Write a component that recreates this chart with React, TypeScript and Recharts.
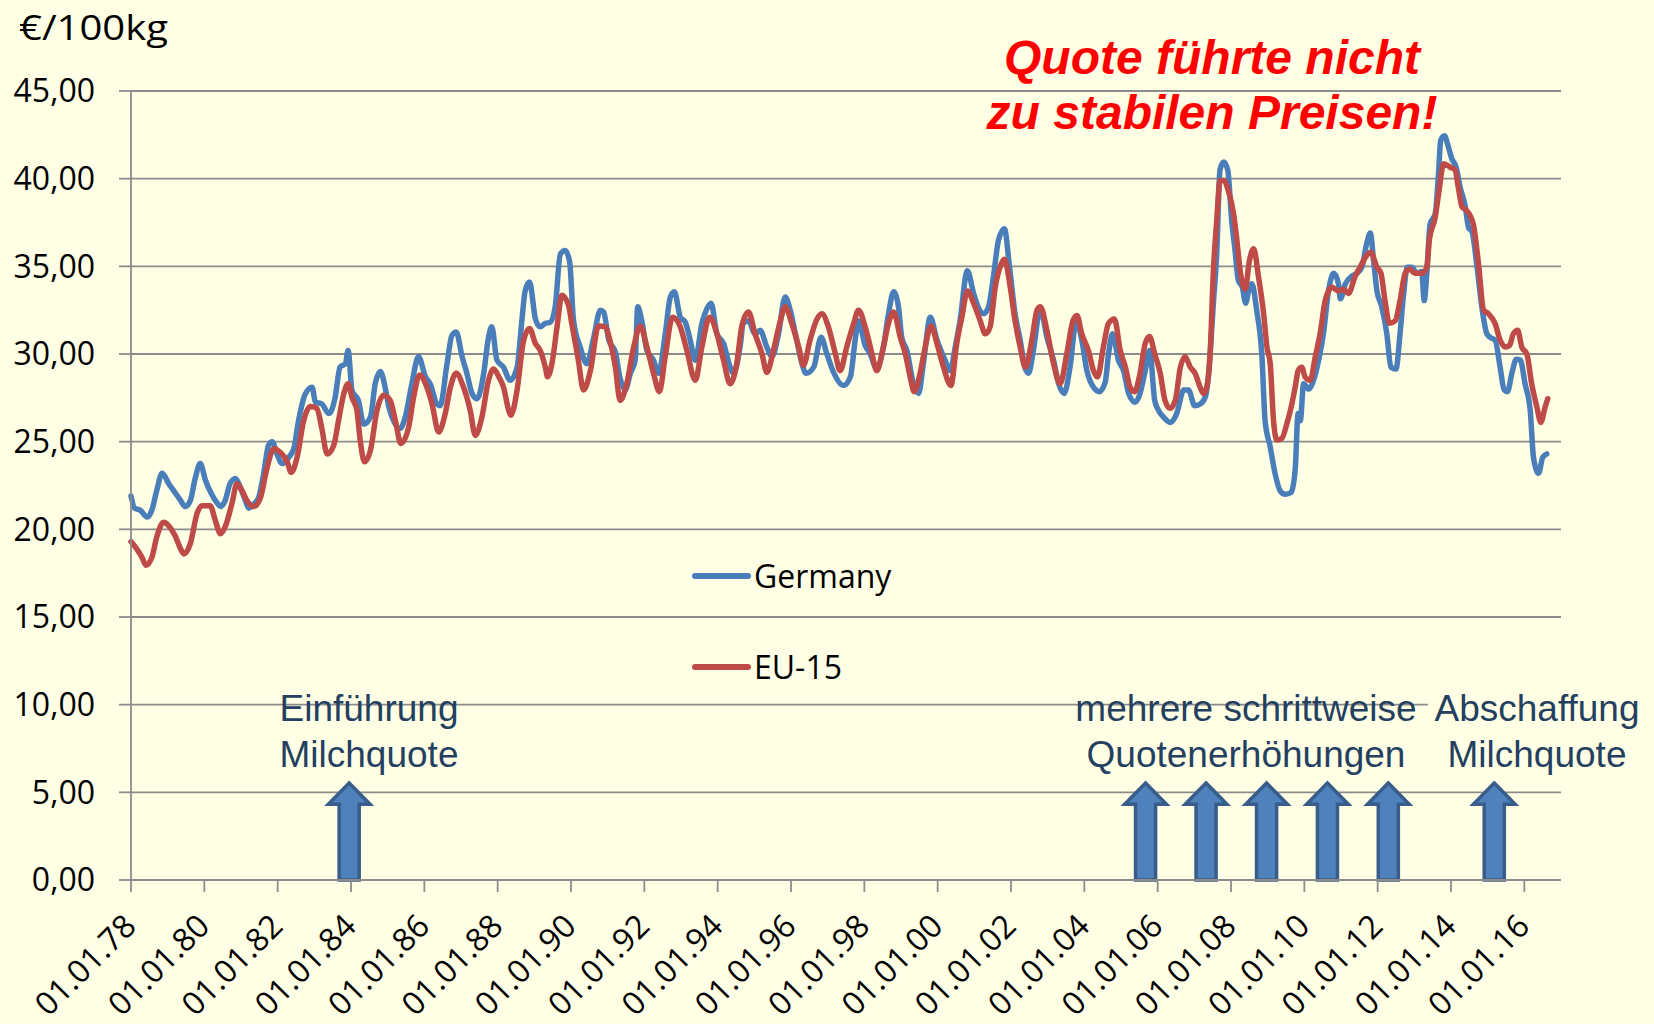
import React from "react"
import { LineChart, Line, XAxis, YAxis, CartesianGrid, Legend, ReferenceArea } from "recharts"

// Milchpreis in €/100kg (time as decimal year)
const germanyTime = [
  1978.0, 1978.1, 1978.25, 1978.44, 1978.57, 1978.7, 1978.85, 1979.03, 1979.2, 1979.35, 1979.48, 1979.62, 1979.75, 1979.89,
  1980.03, 1980.2, 1980.35, 1980.44, 1980.57, 1980.7, 1980.85, 1980.98, 1981.12, 1981.21, 1981.35, 1981.48, 1981.62, 1981.75, 1981.85, 1981.98,
  1982.12, 1982.3, 1982.44, 1982.57, 1982.75, 1982.94, 1983.03, 1983.2, 1983.4, 1983.57, 1983.7, 1983.85, 1983.92,
  1984.03, 1984.2, 1984.35, 1984.53, 1984.66, 1984.8, 1984.93, 1985.03, 1985.16, 1985.34, 1985.48, 1985.66, 1985.84,
  1986.03, 1986.16, 1986.34, 1986.43, 1986.62, 1986.75, 1986.87, 1987.03, 1987.16, 1987.3, 1987.44, 1987.62, 1987.75, 1987.84, 1987.98,
  1988.16, 1988.34, 1988.53, 1988.66, 1988.75, 1988.87, 1989.03, 1989.16, 1989.3, 1989.43, 1989.57, 1989.71, 1989.84, 1989.96,
  1990.07, 1990.25, 1990.43, 1990.62, 1990.8, 1990.89, 1991.03, 1991.21, 1991.34, 1991.48, 1991.62, 1991.75, 1991.82, 1991.93,
  1992.07, 1992.25, 1992.39, 1992.57, 1992.71, 1992.82, 1992.98, 1993.12, 1993.25, 1993.39, 1993.57, 1993.71, 1993.82, 1993.98,
  1994.16, 1994.34, 1994.43, 1994.61, 1994.7, 1994.84, 1995.02, 1995.16, 1995.34, 1995.48, 1995.66, 1995.84, 1995.98,
  1996.12, 1996.3, 1996.41, 1996.62, 1996.82, 1996.98, 1997.16, 1997.43, 1997.62, 1997.75, 1997.84, 1998.02, 1998.16, 1998.34,
  1998.52, 1998.66, 1998.8, 1998.93, 1999.02, 1999.16, 1999.34, 1999.48, 1999.61, 1999.8, 1999.98, 2000.2, 2000.34, 2000.48,
  2000.61, 2000.81, 2000.98, 2001.12, 2001.26, 2001.39, 2001.52, 2001.66, 2001.82, 2001.96, 2002.11, 2002.25, 2002.39, 2002.48,
  2002.61, 2002.8, 2002.98, 2003.16, 2003.3, 2003.45, 2003.61, 2003.78, 2003.93, 2004.07, 2004.25, 2004.41, 2004.57, 2004.66,
  2004.77, 2004.93, 2005.07, 2005.21, 2005.39, 2005.52, 2005.66, 2005.78, 2005.92, 2006.02, 2006.16, 2006.34, 2006.52, 2006.71,
  2006.84, 2007.01, 2007.16, 2007.3, 2007.39, 2007.52, 2007.61, 2007.7, 2007.8, 2007.91, 2008.02, 2008.11, 2008.2, 2008.31,
  2008.4, 2008.48, 2008.57, 2008.7, 2008.84, 2008.93, 2009.07, 2009.2, 2009.34, 2009.48, 2009.64, 2009.75, 2009.83, 2009.89,
  2009.98, 2010.12, 2010.25, 2010.39, 2010.52, 2010.66, 2010.8, 2010.93, 2010.98, 2011.12, 2011.3, 2011.43, 2011.57, 2011.7,
  2011.8, 2011.89, 2011.98, 2012.11, 2012.25, 2012.36, 2012.5, 2012.61, 2012.7, 2012.81, 2012.93, 2013.07, 2013.2, 2013.27,
  2013.34, 2013.43, 2013.57, 2013.66, 2013.72, 2013.82, 2013.93, 2014.02, 2014.14, 2014.25, 2014.39, 2014.48, 2014.57, 2014.7,
  2014.84, 2014.98, 2015.11, 2015.2, 2015.34, 2015.45, 2015.54, 2015.66, 2015.78, 2015.89, 2016.02, 2016.16, 2016.25, 2016.39,
  2016.5, 2016.61,
]
const germanyPrice = [
  21.9, 21.2, 21.1, 20.7, 21.1, 22.2, 23.2, 22.6, 22.1, 21.65, 21.3, 21.65, 22.9, 23.75,
  22.8, 22.0, 21.5, 21.3, 21.65, 22.6, 22.9, 22.4, 21.65, 21.2, 21.45, 21.8, 23.2, 24.8, 25.0, 24.3,
  23.75, 24.1, 24.6, 26.2, 27.7, 28.1, 27.25, 27.15, 26.6, 27.55, 29.25, 29.45, 30.2,
  27.9, 27.35, 26.0, 26.4, 28.3, 29.0, 28.1, 27.0, 26.2, 25.75, 26.4, 28.3, 29.85,
  28.7, 28.3, 27.15, 27.05, 29.45, 31.05, 31.25, 29.85, 28.9, 27.75, 27.45, 28.9, 30.95, 31.55, 29.65,
  29.25, 28.5, 29.25, 31.9, 33.6, 34.1, 32.0, 31.55, 31.75, 31.8, 32.7, 35.7, 35.9, 35.3,
  31.9, 30.4, 29.45, 30.95, 32.5, 32.4, 30.8, 30.1, 28.6, 27.95, 28.9, 29.65, 32.7, 31.9,
  30.2, 29.65, 28.9, 31.15, 33.25, 33.55, 32.1, 31.8, 30.8, 29.65, 31.75, 32.6, 32.9, 31.15,
  30.6, 29.25, 28.9, 30.4, 31.75, 31.9, 31.15, 31.35, 30.4, 29.85, 31.15, 33.25, 32.5,
  31.15, 29.45, 28.9, 29.25, 30.95, 30.0, 28.95, 28.2, 28.7, 30.8, 31.9, 30.5, 30.0, 29.15,
  30.4, 32.3, 33.55, 32.7, 30.95, 30.2, 28.3, 27.75, 29.45, 32.1, 30.8, 29.65, 29.05, 30.4,
  31.9, 34.75, 33.45, 32.6, 32.3, 32.7, 34.4, 36.5, 37.15, 34.95, 32.3, 30.8, 29.15, 28.9,
  30.2, 32.6, 30.95, 29.65, 28.3, 27.75, 29.25, 31.9, 30.8, 29.05, 28.1, 27.85, 28.4, 30.0,
  31.15, 29.65, 29.05, 27.75, 27.25, 27.75, 29.05, 30.2, 27.35, 26.8, 26.4, 26.1, 26.6, 27.95,
  27.95, 27.05, 27.15, 27.55, 28.9, 32.9, 35.7, 40.5, 40.95, 40.5, 37.6, 35.9, 34.2, 33.8,
  32.9, 33.6, 34.0, 32.5, 30.0, 26.2, 24.7, 23.2, 22.2, 22.0, 22.1, 23.4, 26.6, 26.2,
  28.3, 28.0, 28.5, 29.65, 31.15, 33.6, 34.6, 34.0, 33.15, 34.0, 34.45, 34.6, 34.95, 36.3,
  36.9, 35.3, 33.6, 32.7, 31.15, 29.25, 29.15, 31.15, 33.25, 34.95, 34.95, 34.6, 34.7, 33.05,
  34.6, 37.4, 38.0, 40.3, 42.2, 42.45, 41.8, 41.15, 40.65, 39.5, 38.4, 37.2, 37.0, 35.15,
  32.7, 31.15, 30.9, 30.8, 29.25, 27.95, 27.85, 28.9, 29.7, 29.65, 28.3, 26.8, 24.1, 23.2,
  24.1, 24.3,
]

const eu15Time = [
  1978.0, 1978.15, 1978.3, 1978.41, 1978.57, 1978.7, 1978.89, 1979.03, 1979.2, 1979.35, 1979.44, 1979.62, 1979.8, 1979.94,
  1980.16, 1980.3, 1980.44, 1980.57, 1980.75, 1980.89, 1981.03, 1981.16, 1981.35, 1981.53, 1981.71, 1981.89,
  1982.07, 1982.25, 1982.37, 1982.53, 1982.71, 1982.89, 1983.07, 1983.2, 1983.35, 1983.53, 1983.66, 1983.8, 1983.92,
  1984.03, 1984.16, 1984.25, 1984.37, 1984.53, 1984.71, 1984.89, 1985.07, 1985.21, 1985.36, 1985.57, 1985.71, 1985.87,
  1986.07, 1986.21, 1986.39, 1986.57, 1986.71, 1986.87, 1987.07, 1987.25, 1987.39, 1987.57, 1987.75, 1987.89,
  1988.03, 1988.16, 1988.3, 1988.36, 1988.53, 1988.71, 1988.87, 1989.03, 1989.16, 1989.3, 1989.36, 1989.48, 1989.62, 1989.75, 1989.93,
  1990.02, 1990.2, 1990.34, 1990.53, 1990.75, 1990.93, 1991.07, 1991.21, 1991.34, 1991.52, 1991.71, 1991.89,
  1992.07, 1992.25, 1992.41, 1992.57, 1992.77, 1992.98, 1993.16, 1993.39, 1993.57, 1993.78, 1993.98,
  1994.16, 1994.34, 1994.52, 1994.66, 1994.84, 1995.02, 1995.21, 1995.34, 1995.52, 1995.71, 1995.84,
  1996.02, 1996.21, 1996.34, 1996.52, 1996.71, 1996.84, 1997.02, 1997.21, 1997.34, 1997.52, 1997.71, 1997.84,
  1998.03, 1998.21, 1998.34, 1998.52, 1998.66, 1998.8, 1998.98, 1999.12, 1999.25, 1999.36, 1999.52, 1999.66, 1999.82, 1999.98,
  2000.16, 2000.36, 2000.52, 2000.66, 2000.81, 2000.98, 2001.16, 2001.3, 2001.43, 2001.57, 2001.7, 2001.82, 2001.98,
  2002.11, 2002.25, 2002.39, 2002.57, 2002.71, 2002.8, 2002.98, 2003.16, 2003.34, 2003.52, 2003.69, 2003.8, 2003.93,
  2004.11, 2004.25, 2004.36, 2004.52, 2004.66, 2004.82, 2004.98, 2005.12, 2005.25, 2005.37, 2005.52, 2005.66, 2005.78, 2005.92,
  2006.07, 2006.2, 2006.34, 2006.48, 2006.62, 2006.75, 2006.89, 2007.02, 2007.16, 2007.25, 2007.34, 2007.43, 2007.52, 2007.61,
  2007.7, 2007.8, 2007.93, 2008.07, 2008.16, 2008.25, 2008.39, 2008.5, 2008.62, 2008.75, 2008.89, 2008.98, 2009.07, 2009.16,
  2009.25, 2009.39, 2009.52, 2009.66, 2009.75, 2009.83, 2009.93, 2010.02, 2010.16, 2010.3, 2010.43, 2010.57, 2010.75, 2010.93,
  2011.07, 2011.2, 2011.39, 2011.52, 2011.66, 2011.81, 2011.98, 2012.09, 2012.2, 2012.32, 2012.48, 2012.61, 2012.75, 2012.87,
  2013.02, 2013.2, 2013.34, 2013.41, 2013.57, 2013.66, 2013.8, 2013.98, 2014.11, 2014.2, 2014.3, 2014.42, 2014.52, 2014.61,
  2014.75, 2014.89, 2015.02, 2015.2, 2015.34, 2015.48, 2015.6, 2015.7, 2015.82, 2015.93, 2016.07, 2016.2, 2016.34, 2016.45,
  2016.57, 2016.64,
]
const eu15Price = [
  19.3, 18.9, 18.4, 17.95, 18.4, 19.55, 20.4, 20.2, 19.65, 18.9, 18.6, 19.2, 20.9, 21.35,
  21.35, 20.5, 19.75, 20.15, 21.45, 22.6, 22.2, 21.65, 21.3, 21.8, 23.5, 24.6,
  24.4, 23.9, 23.25, 24.1, 26.2, 27.0, 26.9, 25.8, 24.3, 24.8, 26.2, 27.7, 28.3,
  27.5, 26.8, 25.1, 23.85, 24.5, 26.8, 27.65, 27.35, 26.2, 24.9, 25.8, 27.55, 28.8,
  28.1, 27.15, 25.55, 26.6, 28.1, 28.9, 28.1, 26.8, 25.35, 26.4, 28.5, 29.15,
  28.7, 28.1, 26.8, 26.5, 27.95, 30.8, 31.45, 30.6, 30.2, 29.25, 28.7, 29.45, 31.55, 33.35, 32.8,
  31.75, 29.65, 27.95, 29.05, 31.6, 31.55, 30.7, 29.25, 27.35, 28.3, 30.4, 31.6,
  30.4, 28.9, 27.85, 29.85, 32.1, 31.55, 30.2, 28.5, 30.4, 32.1, 31.15,
  29.65, 28.3, 29.45, 31.6, 32.4, 31.15, 30.0, 28.95, 30.2, 31.9, 32.7,
  31.75, 30.4, 29.35, 30.8, 32.0, 32.3, 31.55, 30.0, 29.05, 30.4, 31.75, 32.5,
  31.5, 30.0, 29.05, 30.4, 31.75, 32.4, 30.95, 30.0, 28.7, 27.85, 28.9, 30.4, 31.6, 30.6,
  29.25, 28.2, 30.6, 32.1, 33.6, 32.9, 31.9, 31.15, 31.55, 33.8, 34.95, 35.4, 33.8,
  31.9, 30.4, 29.25, 30.8, 32.5, 32.7, 31.35, 29.45, 28.3, 30.0, 31.9, 32.2, 31.15,
  30.2, 29.05, 28.7, 30.4, 31.75, 32.0, 30.2, 29.25, 28.1, 27.85, 28.9, 30.6, 31.0, 30.0,
  28.9, 27.35, 26.9, 27.35, 29.25, 29.85, 29.25, 28.9, 28.1, 27.75, 28.1, 30.0, 34.75, 37.6,
  39.9, 39.9, 39.3, 38.0, 36.5, 34.75, 33.7, 35.3, 36.0, 34.4, 32.3, 30.4, 29.45, 26.2,
  25.1, 25.2, 26.0, 27.15, 28.1, 29.05, 29.25, 28.7, 28.5, 29.85, 31.15, 33.05, 33.8, 33.6,
  33.7, 33.45, 34.45, 34.95, 35.5, 35.8, 34.95, 34.6, 33.05, 31.75, 31.9, 33.05, 34.6, 34.85,
  34.6, 34.6, 34.95, 36.5, 37.8, 39.1, 40.85, 40.65, 40.5, 39.5, 38.4, 38.2, 37.9, 37.4,
  35.15, 32.5, 32.3, 31.75, 30.8, 30.4, 30.5, 31.15, 31.35, 30.4, 30.0, 28.3, 27.0, 26.1,
  27.0, 27.45,
]

const seriesNames = ["Germany", "EU-15"]
const xTicks = [1978, 1980, 1982, 1984, 1986, 1988, 1990, 1992, 1994, 1996, 1998, 2000, 2002, 2004, 2006, 2008, 2010, 2012, 2014, 2016]
const yTicks = [0, 5, 10, 15, 20, 25, 30, 35, 40, 45]

// arrows: quota introduction, stepwise increases, abolition
const arrowYears = [1983.95, 2005.67, 2007.32, 2008.97, 2010.63, 2012.29, 2015.18]
const arrowTop = 5.53

const titleLines = ["Quote führte nicht", "zu stabilen Preisen!"]
const notes = [
  { lines: ["Einführung", "Milchquote"], x: 369 },
  { lines: ["mehrere schrittweise", "Quotenerhöhungen"], x: 1246 },
  { lines: ["Abschaffung", "Milchquote"], x: 1537 },
]

const germanyData = germanyTime.map((t, i) => ({ t, v: germanyPrice[i] }))
const eu15Data = eu15Time.map((t, i) => ({ t, v: eu15Price[i] }))

const BG = "#FFFFE5"
const GRID = "#8c8c8c"
const BLUE = "#4A7EBB"
const RED = "#BE4B48"
const NOTE = "#243F60"

const fmtDate = (y: number) => "01.01." + String(y % 100).padStart(2, "0")
const fmtPrice = (v: number) => v.toFixed(2).replace(".", ",")

function DateTick(props: any) {
  const { x, y, payload } = props
  const ax = x + 7
  const ay = y + 36
  return (
    <text x={ax} y={ay} transform={`rotate(-45 ${ax} ${ay})`} textAnchor="end"
      fontFamily="Open Sans" fontSize={32} fill="#000">
      {fmtDate(payload.value)}
    </text>
  )
}

function UpArrow(props: any) {
  const { x, y, width, height } = props
  const cx = x + width / 2
  const shaft = width * 0.24
  const head = height * 0.22
  const pts = [
    [cx, y], [x + width, y + head], [cx + shaft, y + head], [cx + shaft, y + height],
    [cx - shaft, y + height], [cx - shaft, y + head], [x, y + head],
  ].map((p) => p.join(",")).join(" ")
  return <polygon points={pts} fill="#4F81BD" stroke="#385D8A" strokeWidth={3.5} />
}

function LegendBox(props: any) {
  const items = [...(props.payload || [])].sort(
    (a: any, b: any) => seriesNames.indexOf(a.value) - seriesNames.indexOf(b.value)
  )
  return (
    <div>
      {items.map((p: any) => (
        <div key={p.value} style={{ display: "flex", alignItems: "center", height: 91 }}>
          <svg width={62} height={10}>
            <line x1={5} y1={5} x2={58} y2={5} stroke={p.color} strokeWidth={6} strokeLinecap="round" />
          </svg>
          <span style={{ fontFamily: "Open Sans", fontSize: 32, color: "#000", marginLeft: 2 }}>{p.value}</span>
        </div>
      ))}
    </div>
  )
}

export default function App() {
  return (
    <div style={{ position: "absolute", left: 0, top: 0, width: 1654, height: 1024, background: BG, overflow: "hidden" }}>
      <LineChart width={1654} height={1024} margin={{ top: 91, right: 93, bottom: 0, left: 0 }}>
        <CartesianGrid vertical={false} stroke={GRID} strokeWidth={1.8} />
        <XAxis dataKey="t" type="number" domain={[1978, 2017]} ticks={xTicks} interval={0}
          height={144} tickSize={12} tickMargin={0} tick={<DateTick />}
          axisLine={{ stroke: GRID, strokeWidth: 1.8 }} tickLine={{ stroke: GRID, strokeWidth: 1.8 }} allowDuplicatedCategory={false} />
        <YAxis type="number" domain={[0, 45]} ticks={yTicks} interval={0} width={131}
          tickSize={12} tickMargin={24} tickFormatter={fmtPrice}
          tick={{ fill: "#000", fontSize: 32, fontFamily: "Open Sans" }}
          axisLine={{ stroke: GRID, strokeWidth: 1.8 }} tickLine={{ stroke: GRID, strokeWidth: 1.8 }} />
        {arrowYears.map((yr) => (
          <ReferenceArea key={yr} x1={yr - 0.57} x2={yr + 0.57} y1={0} y2={arrowTop} shape={UpArrow} />
        ))}
        <Line data={germanyData} dataKey="v" name={seriesNames[0]} type="monotone" stroke={BLUE} strokeWidth={5.5}
          dot={false} activeDot={false} isAnimationActive={false} strokeLinejoin="round" strokeLinecap="round" />
        <Line data={eu15Data} dataKey="v" name={seriesNames[1]} type="monotone" stroke={RED} strokeWidth={5.5}
          dot={false} activeDot={false} isAnimationActive={false} strokeLinejoin="round" strokeLinecap="round" />
        <Legend layout="vertical" align="center" verticalAlign="middle" content={<LegendBox />}
          wrapperStyle={{ left: 690, top: 530, width: 260, height: 182 }} />
      </LineChart>
      <svg width={1654} height={1024} style={{ position: "absolute", left: 0, top: 0, pointerEvents: "none" }}>
        <text x={19} y={39.5} fontFamily="Open Sans" fontSize={34} fill="#000" textLength={149} lengthAdjust="spacingAndGlyphs">€/100kg</text>
        {titleLines.map((s, i) => (
          <text key={s} x={1212} y={73.5 + i * 55} textAnchor="middle" fontFamily="Liberation Sans, Arial, sans-serif"
            fontWeight="bold" fontStyle="italic" fontSize={48} fill="#FF0000">{s}</text>
        ))}
        <rect x={1428} y={686} width={226} height={94} fill={BG} />
        {notes.map((n) => n.lines.map((s, i) => (
          <text key={s + n.x} x={n.x} y={720.7 + i * 46} textAnchor="middle" fontFamily="Liberation Sans, Arial, sans-serif"
            fontSize={37} fill={NOTE}>{s}</text>
        )))}
      </svg>
    </div>
  )
}
